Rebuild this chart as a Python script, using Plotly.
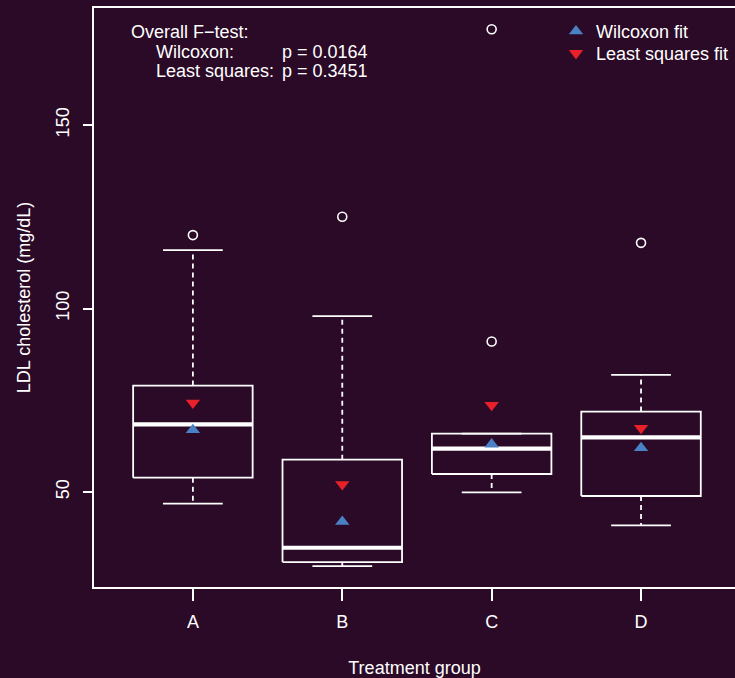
import plotly.graph_objects as go

# Treatment groups and box summary statistics (LDL cholesterol, mg/dL)
groups = ["A", "B", "C", "D"]
q1 = [53.9, 30.9, 54.9, 48.9]
medians = [68.4, 34.8, 61.8, 64.9]
q3 = [79.0, 58.8, 65.9, 71.9]
whisker_low = [46.8, 29.8, 49.9, 40.9]
whisker_high = [115.9, 97.9, 65.9, 81.9]
outliers = {"A": [120.0], "B": [125.0], "C": [176.1, 91.0], "D": [117.9]}

# Fitted group values from the two models
wilcoxon_fit = [66.9, 41.9, 63.0, 62.0]
least_squares_fit = [74.3, 52.1, 73.7, 67.4]

# Overall F-test p-values
p_wilcoxon = 0.0164
p_least_squares = 0.3451

BG = "#2a0a27"
FG = "white"
BLUE = "#4a80c4"
RED = "#e8202a"
FONT = "Liberation Sans, Arial, Helvetica, sans-serif"
FS = 18
BOX_HALF = 0.4
CAP_HALF = 0.2

pos = list(range(1, len(groups) + 1))

box_x, box_y = [], []
med_x, med_y = [], []
wh_x, wh_y = [], []
cap_x, cap_y = [], []
out_x, out_y = [], []
for p, g, a, m, b, lo, hi in zip(pos, groups, q1, medians, q3, whisker_low, whisker_high):
    box_x += [p - BOX_HALF, p + BOX_HALF, p + BOX_HALF, p - BOX_HALF, p - BOX_HALF, None]
    box_y += [a, a, b, b, a, None]
    med_x += [p - BOX_HALF, p + BOX_HALF, None]
    med_y += [m, m, None]
    wh_x += [p, p, None, p, p, None]
    wh_y += [b, hi, None, a, lo, None]
    cap_x += [p - CAP_HALF, p + CAP_HALF, None, p - CAP_HALF, p + CAP_HALF, None]
    cap_y += [hi, hi, None, lo, lo, None]
    for v in outliers[g]:
        out_x.append(p)
        out_y.append(v)

fig = go.Figure()
fig.add_trace(go.Scatter(x=wh_x, y=wh_y, mode="lines", showlegend=False, hoverinfo="skip",
                         line=dict(color=FG, width=1.8, dash="5px,4px")))
fig.add_trace(go.Scatter(x=cap_x, y=cap_y, mode="lines", showlegend=False, hoverinfo="skip",
                         line=dict(color=FG, width=1.8)))
fig.add_trace(go.Scatter(x=box_x, y=box_y, mode="lines", showlegend=False, hoverinfo="skip",
                         line=dict(color=FG, width=1.8)))
fig.add_trace(go.Scatter(x=med_x, y=med_y, mode="lines", showlegend=False, hoverinfo="skip",
                         line=dict(color=FG, width=4.2)))
fig.add_trace(go.Scatter(x=out_x, y=out_y, mode="markers", showlegend=False,
                         marker=dict(symbol="circle-open", size=9, color=FG, line=dict(width=1.6))))
fig.add_trace(go.Scatter(x=pos, y=wilcoxon_fit, mode="markers", name="Wilcoxon fit",
                         legend="legend",
                         marker=dict(symbol="triangle-up", size=12.5, color=BLUE)))
fig.add_trace(go.Scatter(x=pos, y=least_squares_fit, mode="markers", name="Least squares fit",
                         legend="legend2",
                         marker=dict(symbol="triangle-down", size=12.5, color=RED)))

W, H = 735, 678
ML, MR, MT, MB = 94, 0, 8, 91
pw, ph = W - ML - MR, H - MT - MB


def px(x):
    return (x - ML) / pw


def py(y):
    return (H - MB - y) / ph


txt = dict(color=FG, size=FS, family=FONT)
annotations = [
    dict(x=px(130), y=py(32.5), text="Overall F\u2212test:"),
    dict(x=px(154.5), y=py(51.5), text="Wilcoxon:"),
    dict(x=px(281), y=py(51.5), text=f"p = {p_wilcoxon:.4f}"),
    dict(x=px(154.5), y=py(70.5), text="Least squares:"),
    dict(x=px(281), y=py(70.5), text=f"p = {p_least_squares:.4f}"),
]
for a in annotations:
    a.update(xref="paper", yref="paper", xanchor="left", yanchor="middle",
             showarrow=False, borderpad=0, font=txt)

leg_common = dict(xanchor="left", yanchor="top", bgcolor="rgba(0,0,0,0)",
                  font=dict(size=FS, color=FG, family=FONT), itemwidth=30)

fig.update_layout(
    width=W, height=H,
    margin=dict(l=ML, r=MR, t=MT, b=MB, pad=0),
    paper_bgcolor=BG, plot_bgcolor=BG,
    font=dict(family=FONT, color=FG, size=FS),
    annotations=annotations,
    legend=dict(x=px(556), y=py(13), **leg_common),
    legend2=dict(x=px(556), y=py(35), **leg_common),
    xaxis=dict(range=[0.338, 4.629], tickmode="array", tickvals=pos, ticktext=groups,
               ticks="outside", ticklen=12, tickwidth=1.5, tickcolor=FG,
               showline=True, linecolor=FG, linewidth=1.8, mirror=True,
               showgrid=False, zeroline=False, tickfont=dict(size=FS, color=FG),
               ticklabelstandoff=5,
               title=dict(text="Treatment group", font=dict(size=FS, color=FG), standoff=31)),
    yaxis=dict(range=[24.1, 181.9], tickmode="array", tickvals=[50, 100, 150],
               tickangle=-90, ticks="outside", ticklen=9, tickwidth=1.5, tickcolor=FG,
               showline=True, linecolor=FG, linewidth=1.8, mirror=False,
               showgrid=False, zeroline=False, tickfont=dict(size=FS, color=FG),
               ticklabelstandoff=7,
               title=dict(text="LDL cholesterol (mg/dL)", font=dict(size=FS, color=FG), standoff=18)),
)

fig.write_html("out.html")
